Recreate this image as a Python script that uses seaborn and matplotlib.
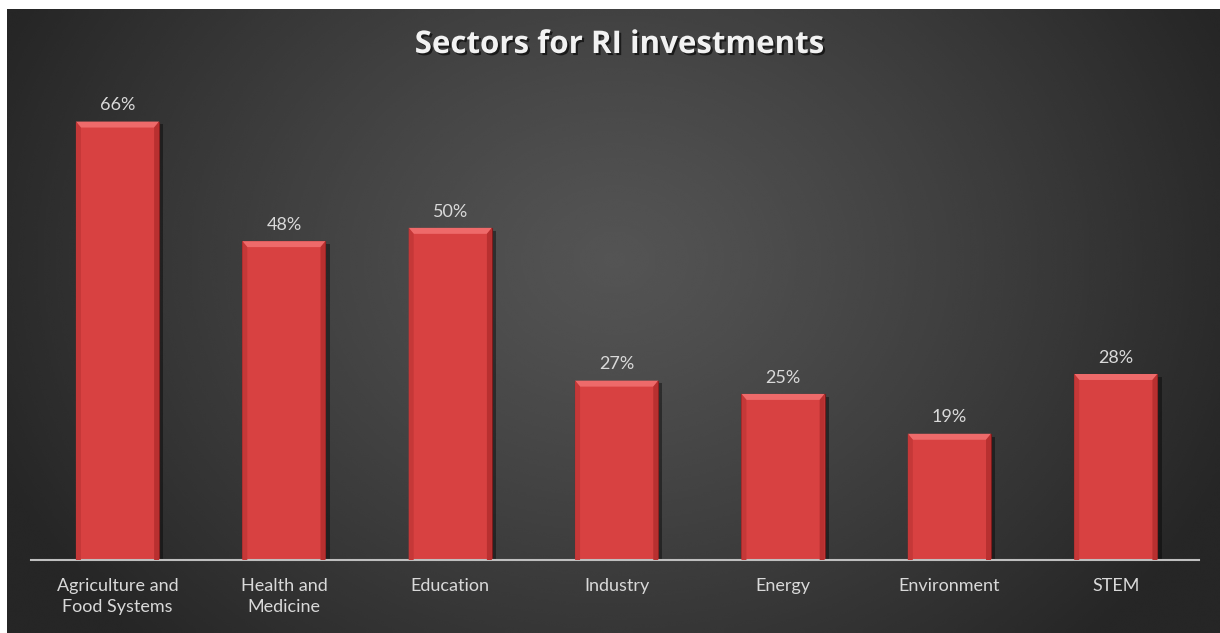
import numpy as np
import pandas as pd
import matplotlib
matplotlib.use("Agg")
import matplotlib.pyplot as plt
import matplotlib.patheffects as pe
from matplotlib.patches import Polygon
import seaborn as sns

sectors = ["Agriculture and\nFood Systems", "Health and\nMedicine", "Education",
           "Industry", "Energy", "Environment", "STEM"]
shares = [66, 48, 50, 27, 25, 19, 28]
value_labels = ["66%", "48%", "50%", "27%", "25%", "19%", "28%"]

sns.set_theme(style="white")
plt.rcParams["font.family"] = ["Lato", "DejaVu Sans"]

W, H = 1220, 633
fig = plt.figure(figsize=(W / 100, H / 100), dpi=100, facecolor="white")

# dark radial-gradient panel behind the chart
bg = fig.add_axes([7 / W, 0, 1 - 7 / W, (H - 9) / H])
bg.set_axis_off()
yy, xx = np.mgrid[0:300, 0:600]
cx, cy = 300, 120
r = np.sqrt(((xx - cx) / 330.0) ** 2 + ((yy - cy) / 260.0) ** 2)
r = np.clip(r, 0, 1)
light, dark = 0.33, 0.15
grad = light - (light - dark) * r ** 1.2
bg.imshow(grad, cmap="gray", vmin=0, vmax=1, aspect="auto",
          extent=[0, 1, 1, 0], interpolation="bicubic")
bg.set_xlim(0, 1)
bg.set_ylim(1, 0)

ax = fig.add_axes([31 / W, (H - 560) / H, 1168 / W, 465 / H])
ax.patch.set_alpha(0)

df = pd.DataFrame({"sector": sectors, "share": shares})
sns.barplot(data=df, x="sector", y="share", color="#D84141", width=0.5,
            saturation=1, edgecolor="#7a1c1c", linewidth=0.8, ax=ax)

ax.set_xlim(-0.52, 6.5)
ax.set_ylim(0, 70)

for bar, lab in zip(ax.patches, value_labels):
    bar.set_path_effects([pe.SimplePatchShadow(offset=(3, -2), shadow_rgbFace="black", alpha=0.4),
                          pe.Normal()])
    x0, w, h = bar.get_x(), bar.get_width(), bar.get_height()
    bev_x = w * 0.06
    bev_y = 0.9
    # bevelled top edge
    ax.add_patch(Polygon([[x0, h], [x0 + w, h], [x0 + w - bev_x, h - bev_y], [x0 + bev_x, h - bev_y]],
                         closed=True, facecolor="#ee6a6a", edgecolor="none", zorder=3))
    # bevelled side edges
    ax.add_patch(Polygon([[x0, h], [x0 + bev_x, h - bev_y], [x0 + bev_x, 0], [x0, 0]],
                         closed=True, facecolor="#c53838", edgecolor="none", zorder=3))
    ax.add_patch(Polygon([[x0 + w, h], [x0 + w - bev_x, h - bev_y], [x0 + w - bev_x, 0], [x0 + w, 0]],
                         closed=True, facecolor="#b83030", edgecolor="none", zorder=3))
    ax.annotate(lab, (x0 + w / 2, h), xytext=(0, 6), textcoords="offset points",
                ha="center", va="bottom", color="#d9d9d9", fontsize=13)

ax.set_xlabel("")
ax.set_ylabel("")
ax.set_yticks([])
ax.tick_params(axis="x", colors="#d9d9d9", labelsize=13, length=0, pad=13)
for lbl in ax.get_xticklabels():
    lbl.set_color("#d9d9d9")
    lbl.set_linespacing(1.35)
for side in ["top", "left", "right"]:
    ax.spines[side].set_visible(False)
ax.spines["bottom"].set_color("#bfbfbf")
ax.spines["bottom"].set_linewidth(1.5)

fig.text(0.508, (H - 45) / H, "Sectors for RI investments", ha="center", va="center",
         color="#f2f2f2", fontsize=22.5, fontweight="bold", family=["Open Sans", "DejaVu Sans"],
         path_effects=[pe.withSimplePatchShadow(offset=(1.5, -1.5), shadow_rgbFace="black", alpha=0.6)])

fig.savefig("out.png", dpi=100, facecolor="white")
